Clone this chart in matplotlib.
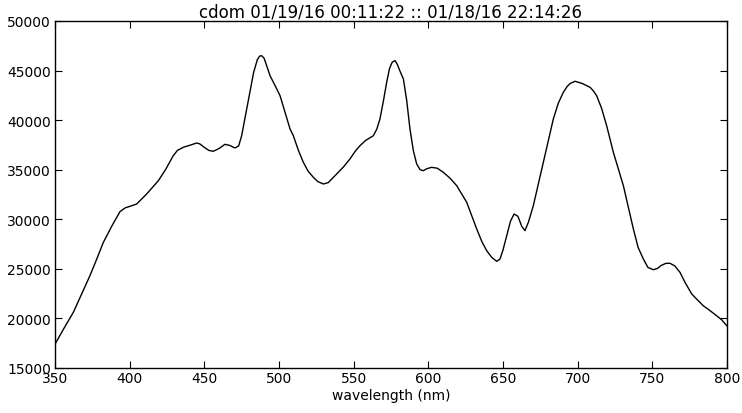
import matplotlib
matplotlib.use("Agg")
import matplotlib.pyplot as plt

title = "cdom 01/19/16 00:11:22 :: 01/18/16 22:14:26"
xlabel = "wavelength (nm)"

wavelength = [350, 356, 362.3, 368, 373.4, 378, 382.4, 388, 393.5, 397, 400.2, 404.7,
              411.4, 419.2, 424, 429.2, 432, 435.9, 440, 444.9, 447, 450, 453, 456, 460,
              463.8, 467, 470.5, 473, 475, 478, 480.6, 483, 485.5, 487, 488.4, 490, 491.5,
              494, 497, 500.7, 504, 507.4, 509.6, 513, 516.3, 519.5, 523, 526,
              529.7, 533, 538.6, 543, 547.5, 551, 554.2, 558, 563.2, 565.5, 567.6, 570,
              572.1, 574, 575.8, 577.7, 579.3, 581, 583.3, 585.5, 587.7, 590, 592.2,
              594.5, 596.6, 599, 602.2, 606, 610, 614.5, 619, 625.7, 632.4, 636, 639.1,
              642.5, 645.8, 648, 650, 652.5, 655, 657.4, 660, 662.5, 664.7, 667, 670.3,
              677, 683.7, 687, 690.4, 693, 695, 698.2, 703, 708.3, 710.5, 712.7, 716,
              719.4, 723.9, 730.6, 737.3, 740.5, 744, 747, 750.7, 753.5, 756, 759, 761.8,
              765, 768.5, 772, 776.4, 780, 784.1, 788.5, 793, 796.5, 799.8]
counts = [17400, 19000, 20617, 22500, 24310, 26000, 27677, 29300, 30764, 31150, 31306, 31540,
          32550, 33890, 35000, 36413, 36950, 37260, 37450, 37694, 37600, 37250, 36950, 36856, 37150,
          37560, 37450, 37190, 37400, 38430, 40800, 42810, 44800, 46100, 46450, 46500, 46250, 45600,
          44480, 43600, 42465, 40800, 39106, 38430, 36950, 35747, 34850, 34234, 33800,
          33560, 33700, 34570, 35250, 36080, 36850, 37420, 37950, 38430, 39100, 40115, 42000,
          43815, 45200, 45850, 46000, 45600, 44950, 44150, 42000, 39106, 36900, 35576,
          35000, 34900, 35100, 35240, 35150, 34740, 34150, 33390, 31710, 29020, 27700, 26830,
          26150, 25760, 25990, 26900, 28340, 29800, 30530, 30300, 29300, 28850, 29700, 31370,
          35750, 40115, 41700, 42810, 43400, 43700, 43920, 43700, 43310, 42950, 42465, 41200,
          39440, 36750, 33390, 29020, 27150, 25990, 25150, 24910, 25050, 25350, 25550, 25560,
          25300, 24650, 23600, 22460, 21900, 21280, 20800, 20275, 19850, 19265]

fig = plt.figure(figsize=(7.42, 4.14), dpi=100, facecolor="white")
ax = fig.add_axes([0.0741, 0.1087, 0.9057, 0.8382])
ax.plot(wavelength, counts, color="black", lw=1.0)
ax.set_xlim(350, 800)
ax.set_ylim(15000, 50000)
ax.set_xticks(range(350, 801, 50))
ax.set_yticks(range(15000, 50001, 5000))
ax.tick_params(direction="in", top=True, right=True, length=5, width=0.8, labelsize=10)
ax.tick_params(axis="x", pad=2)
ax.tick_params(axis="y", pad=3)
for s in ax.spines.values():
    s.set_linewidth(1.0)
ax.set_xlabel(xlabel, fontsize=10, labelpad=2)
ax.set_title(title, fontsize=12, pad=3)
fig.savefig("out.png", dpi=100, facecolor="white")
